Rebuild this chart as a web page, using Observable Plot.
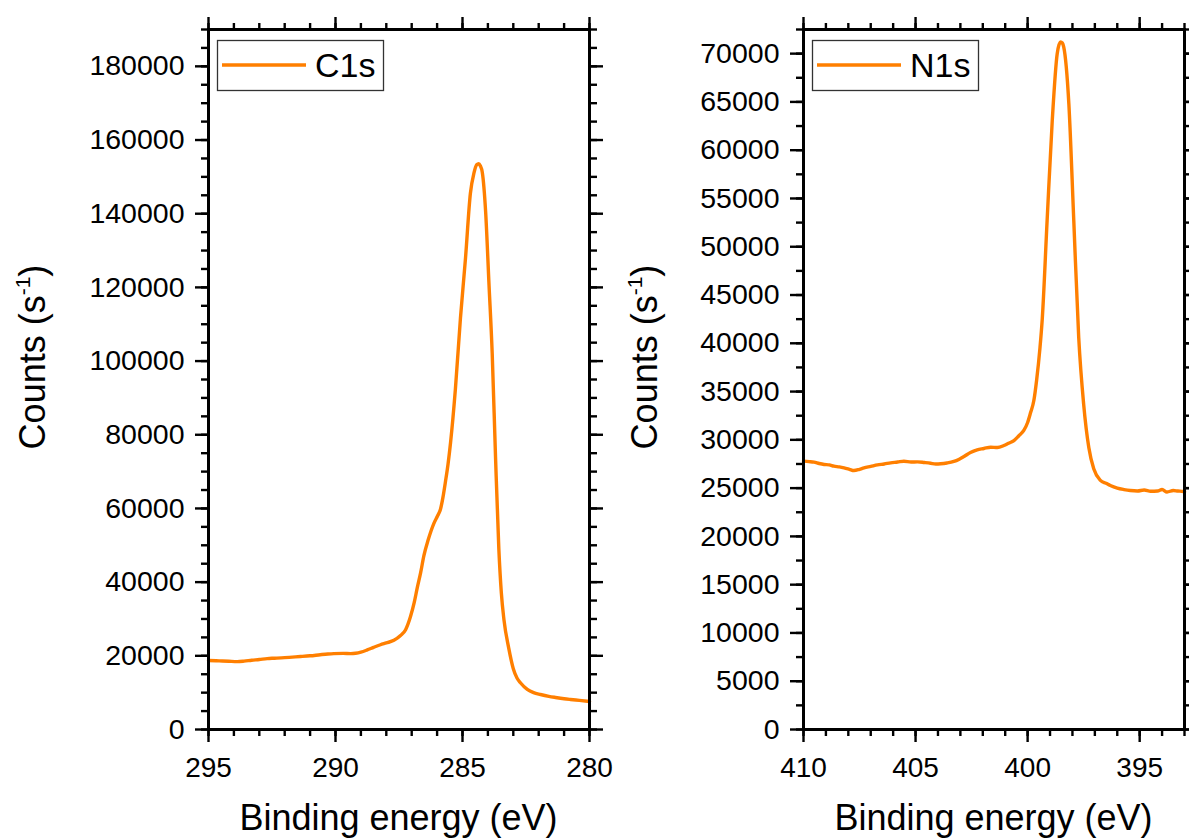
<!DOCTYPE html>
<html><head><meta charset="utf-8">
<script src="https://cdn.jsdelivr.net/npm/d3@7"></script>
<script src="https://cdn.jsdelivr.net/npm/@observablehq/plot@0.6"></script>
<style>
html,body{margin:0;padding:0;background:#fff;}
#wrap{position:relative;width:1189px;height:839px;overflow:hidden;font-family:"Liberation Sans",Arial,sans-serif;}
#wrap svg{position:absolute;top:0;max-width:none;}
</style></head><body><div id="wrap"></div>
<script>
// ---- C1s spectrum (binding energy eV, counts s^-1) ----
const c1sEnergy = [295.0,294.7,294.45,294.2,293.87,293.6,293.3,293.0,292.69,292.4,292.0,291.7,291.38,291.0,290.6,290.3,290.07,289.7,289.4,289.21,289.0,288.75,288.5,288.23,288.0,287.7,287.44,287.24,287.05,286.9,286.78,286.65,286.52,286.35,286.13,285.98,285.87,285.77,285.67,285.57,285.47,285.28,285.08,284.88,284.69,284.55,284.44,284.36,284.3,284.22,284.09,283.96,283.83,283.7,283.57,283.47,283.37,283.18,283.0,282.85,282.72,282.45,282.2,281.93,281.6,281.34,281.0,280.75,280.4,280.0];
const c1sCounts = [18730,18650,18600,18520,18420,18550,18800,19000,19250,19350,19500,19650,19800,20000,20300,20500,20600,20650,20600,20700,21000,21600,22300,23000,23500,24200,25500,27100,30600,34500,38500,42500,47200,51500,55900,58000,59700,63000,67300,72000,77900,92400,111700,128100,145500,151000,153300,153600,153000,151200,140600,121300,102000,74000,49100,37000,29900,22100,16500,13900,12700,10900,10000,9500,9000,8700,8350,8150,7900,7600];

// ---- N1s spectrum ----
const n1sEnergy = [410.0,409.75,409.53,409.3,409.08,408.85,408.64,408.4,408.19,407.95,407.75,407.5,407.3,407.0,406.7,406.4,406.11,405.8,405.52,405.2,404.92,404.6,404.33,404.1,403.88,403.6,403.29,403.05,402.84,402.55,402.25,401.95,401.65,401.35,401.06,400.85,400.61,400.4,400.17,400.0,399.87,399.72,399.6,399.45,399.35,399.13,398.9,398.68,398.53,398.45,398.39,398.16,397.94,397.72,397.5,397.27,397.05,396.75,396.5,396.31,396.0,395.7,395.42,395.1,394.8,394.51,394.2,394.0,393.78,393.5,393.3,393.05,393.0];
const n1sCounts = [27800,27750,27690,27550,27450,27400,27270,27200,27100,26950,26820,26950,27100,27250,27410,27500,27620,27700,27790,27700,27720,27650,27580,27500,27520,27600,27760,28000,28270,28700,28970,29100,29240,29200,29410,29650,29930,30400,30970,31800,32800,34100,36150,39500,42400,52700,63100,70000,71200,71100,70700,64800,52700,40600,33700,29200,27000,25800,25500,25270,25000,24850,24750,24700,24800,24680,24700,24850,24600,24750,24700,24650,24600];

// ---- axes ----
const c1sXTicks = [295,290,285,280];
const c1sYTicks = [0,20000,40000,60000,80000,100000,120000,140000,160000,180000];
const n1sXTicks = [410,405,400,395];
const n1sYTicks = [0,5000,10000,15000,20000,25000,30000,35000,40000,45000,50000,55000,60000,65000,70000];
const xLabel = "Binding energy (eV)";
const yLabel = "Counts (s";
const ySup = "-1";
const seriesNames = ["C1s","N1s"];
const lineColor = "#ff7f00";

const FONT = "Liberation Sans, Arial, Helvetica, sans-serif";
const H = 839, MT = 29, MB = 110;

function panel(o) {
  const data = o.energy.map((e,i)=>({e, c:o.counts[i]}));
  const blank = () => "";
  const ax = {strokeWidth: 2.4, label: null};
  const plot = Plot.plot({
    width: o.width, height: H, marginLeft: o.ml, marginRight: o.mr, marginTop: MT, marginBottom: MB,
    style: {fontFamily: FONT, color: "#000", background: "transparent", overflow: "visible"},
    x: {type: "linear", domain: o.xDomain},
    y: {type: "linear", domain: o.yDomain},
    marks: [
      Plot.axisX({...ax, anchor:"bottom", ticks:o.xTicks, tickSize:13, tickPadding:15, fontSize:28, tickFormat: d=>String(d)}),
      Plot.axisX({...ax, anchor:"bottom", ticks:o.xMinor, tickSize:7, tickFormat: blank}),
      Plot.axisX({...ax, anchor:"top", ticks:o.xTicks, tickSize:13, tickFormat: blank}),
      Plot.axisX({...ax, anchor:"top", ticks:o.xMinor, tickSize:7, tickFormat: blank}),
      Plot.axisY({...ax, anchor:"left", ticks:o.yTicks, tickSize:13, tickPadding:11, fontSize:28.5, tickFormat: d=>String(d)}),
      Plot.axisY({...ax, anchor:"left", ticks:o.yMinor, tickSize:7, tickFormat: blank}),
      Plot.axisY({...ax, anchor:"right", ticks:o.yTicks, tickSize:13, tickFormat: blank}),
      Plot.axisY({...ax, anchor:"right", ticks:o.yMinor, tickSize:7, tickFormat: blank}),
      Plot.line(data, {x:"e", y:"c", stroke: lineColor, strokeWidth: 3.4, curve: "monotone-x"}),
      Plot.frame({stroke:"#000", strokeWidth: 3})
    ]
  });
  const svg = d3.select(plot);
  svg.style("left", o.left + "px");
  const fx0 = o.ml, fx1 = o.width - o.mr;
  // y-axis title
  const yt = svg.append("text")
    .attr("transform", `translate(${o.yLabelX},${o.yLabelY}) rotate(-90)`)
    .attr("text-anchor","middle").attr("font-family", FONT).attr("font-size", 36).attr("fill","#000");
  yt.append("tspan").text(yLabel);
  yt.append("tspan").attr("font-size", 21).attr("dy", -15).text(ySup);
  yt.append("tspan").attr("font-size", 36).attr("dy", 15).text(")");
  // x-axis title
  svg.append("text").attr("x", (fx0+fx1)/2).attr("y", 830)
    .attr("text-anchor","middle").attr("font-family", FONT).attr("font-size", 36).attr("fill","#000")
    .text(xLabel);
  // legend
  const g = svg.append("g");
  g.append("rect").attr("x", fx0+9.5).attr("y", 40.5).attr("width", 166).attr("height", 50)
    .attr("fill","#fff").attr("stroke","#333").attr("stroke-width",1.3);
  g.append("line").attr("x1", fx0+14).attr("x2", fx0+98).attr("y1", 65).attr("y2", 65)
    .attr("stroke", lineColor).attr("stroke-width", 3.4);
  g.append("text").attr("x", fx0+107).attr("y", 77).attr("text-anchor","start")
    .attr("font-family", FONT).attr("font-size", 34).attr("fill","#000").text(o.name);
  document.getElementById("wrap").appendChild(plot);
}

panel({
  energy: c1sEnergy, counts: c1sCounts, name: seriesNames[0],
  xDomain: [295, 280], yDomain: [0, 190000],
  xTicks: c1sXTicks, xMinor: d3.range(280, 296, 1),
  yTicks: c1sYTicks, yMinor: d3.range(0, 190001, 5000),
  width: 600, ml: 208, mr: 11, left: 0, yLabelX: 45, yLabelY: 357
});
panel({
  energy: n1sEnergy, counts: n1sCounts, name: seriesNames[1],
  xDomain: [410, 393], yDomain: [0, 72500],
  xTicks: n1sXTicks, xMinor: d3.range(393, 411, 1),
  yTicks: n1sYTicks, yMinor: d3.range(0, 72501, 2500),
  width: 589, ml: 203, mr: 5, left: 600, yLabelX: 57, yLabelY: 357
});
</script></body></html>
